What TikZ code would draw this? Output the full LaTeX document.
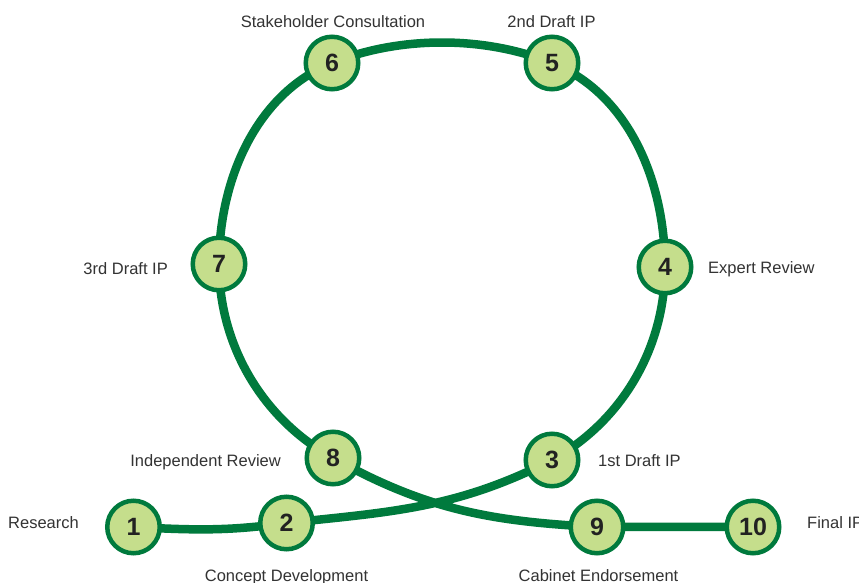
\documentclass[tikz,border=0pt]{standalone}
\usepackage{fontspec}
\setmainfont{Liberation Sans}
\usetikzlibrary{backgrounds}
\definecolor{trackgreen}{HTML}{007A3D}
\definecolor{stepfill}{HTML}{C5DE8C}
\definecolor{labeltext}{HTML}{333333}
\definecolor{numtext}{HTML}{222222}
\begin{document}
\begin{tikzpicture}[x=1pt,y=1pt,
  stepcircle/.style={circle, draw=trackgreen, line width=4.5pt, fill=stepfill,
    minimum size=52.5pt, inner sep=0pt, text=numtext,
    font=\fontsize{25}{28}\selectfont\bfseries},
  steplabel/.style={inner sep=0pt, text=labeltext, font=\fontsize{16.5}{19}\selectfont},
  track/.style={draw=trackgreen, line width=8.5pt}]
\useasboundingbox (0,0) rectangle (859,583);
% steps
\node[stepcircle] (n1) at (133.5,56) {1};
\node[stepcircle] (n2) at (286.5,60) {2};
\node[stepcircle] (n3) at (552,123) {3};
\node[stepcircle] (n4) at (665,316) {4};
\node[stepcircle] (n5) at (552,520) {5};
\node[stepcircle] (n6) at (332,520) {6};
\node[stepcircle] (n7) at (219,319) {7};
\node[stepcircle] (n8) at (333,125) {8};
\node[stepcircle] (n9) at (597,56) {9};
\node[stepcircle] (n10) at (753,56) {10};
% labels
\node[steplabel, anchor=base east] (l1) at (79,54.5) {Research};
\node[steplabel, anchor=base] (l2) at (286.5,1) {Concept Development};
\node[steplabel, anchor=base west] (l3) at (598,116) {1st Draft IP};
\node[steplabel, anchor=base west] (l4) at (708,309) {Expert Review};
\node[steplabel, anchor=base] (l5) at (551.5,555) {2nd Draft IP};
\node[steplabel, anchor=base] (l6) at (333,555) {Stakeholder Consultation};
\node[steplabel, anchor=base east] (l7) at (168,308) {3rd Draft IP};
\node[steplabel, anchor=base east] (l8) at (281,116) {Independent Review};
\node[steplabel, anchor=base] (l9) at (598.5,1) {Cabinet Endorsement};
\node[steplabel, anchor=base west] (l10) at (807,54.5) {Final IP};
% track
\begin{scope}[on background layer]
\fill[white] (0,0) rectangle (859,583);
\draw[track] (n1.center) to[out=-3,in=188] (n2.center)
  to[out=6,in=207] (n3.center)
  to[out=29,in=-90,looseness=0.92] (n4.center)
  to[out=90,in=-22,looseness=0.92] (n5.center)
  to[out=158,in=22,looseness=0.85] (n6.center)
  to[out=202,in=90,looseness=0.92] (n7.center)
  to[out=270,in=151,looseness=0.92] (n8.center)
  to[out=-29,in=177] (n9.center)
  -- (n10.center);
\end{scope}
\end{tikzpicture}
\end{document}
